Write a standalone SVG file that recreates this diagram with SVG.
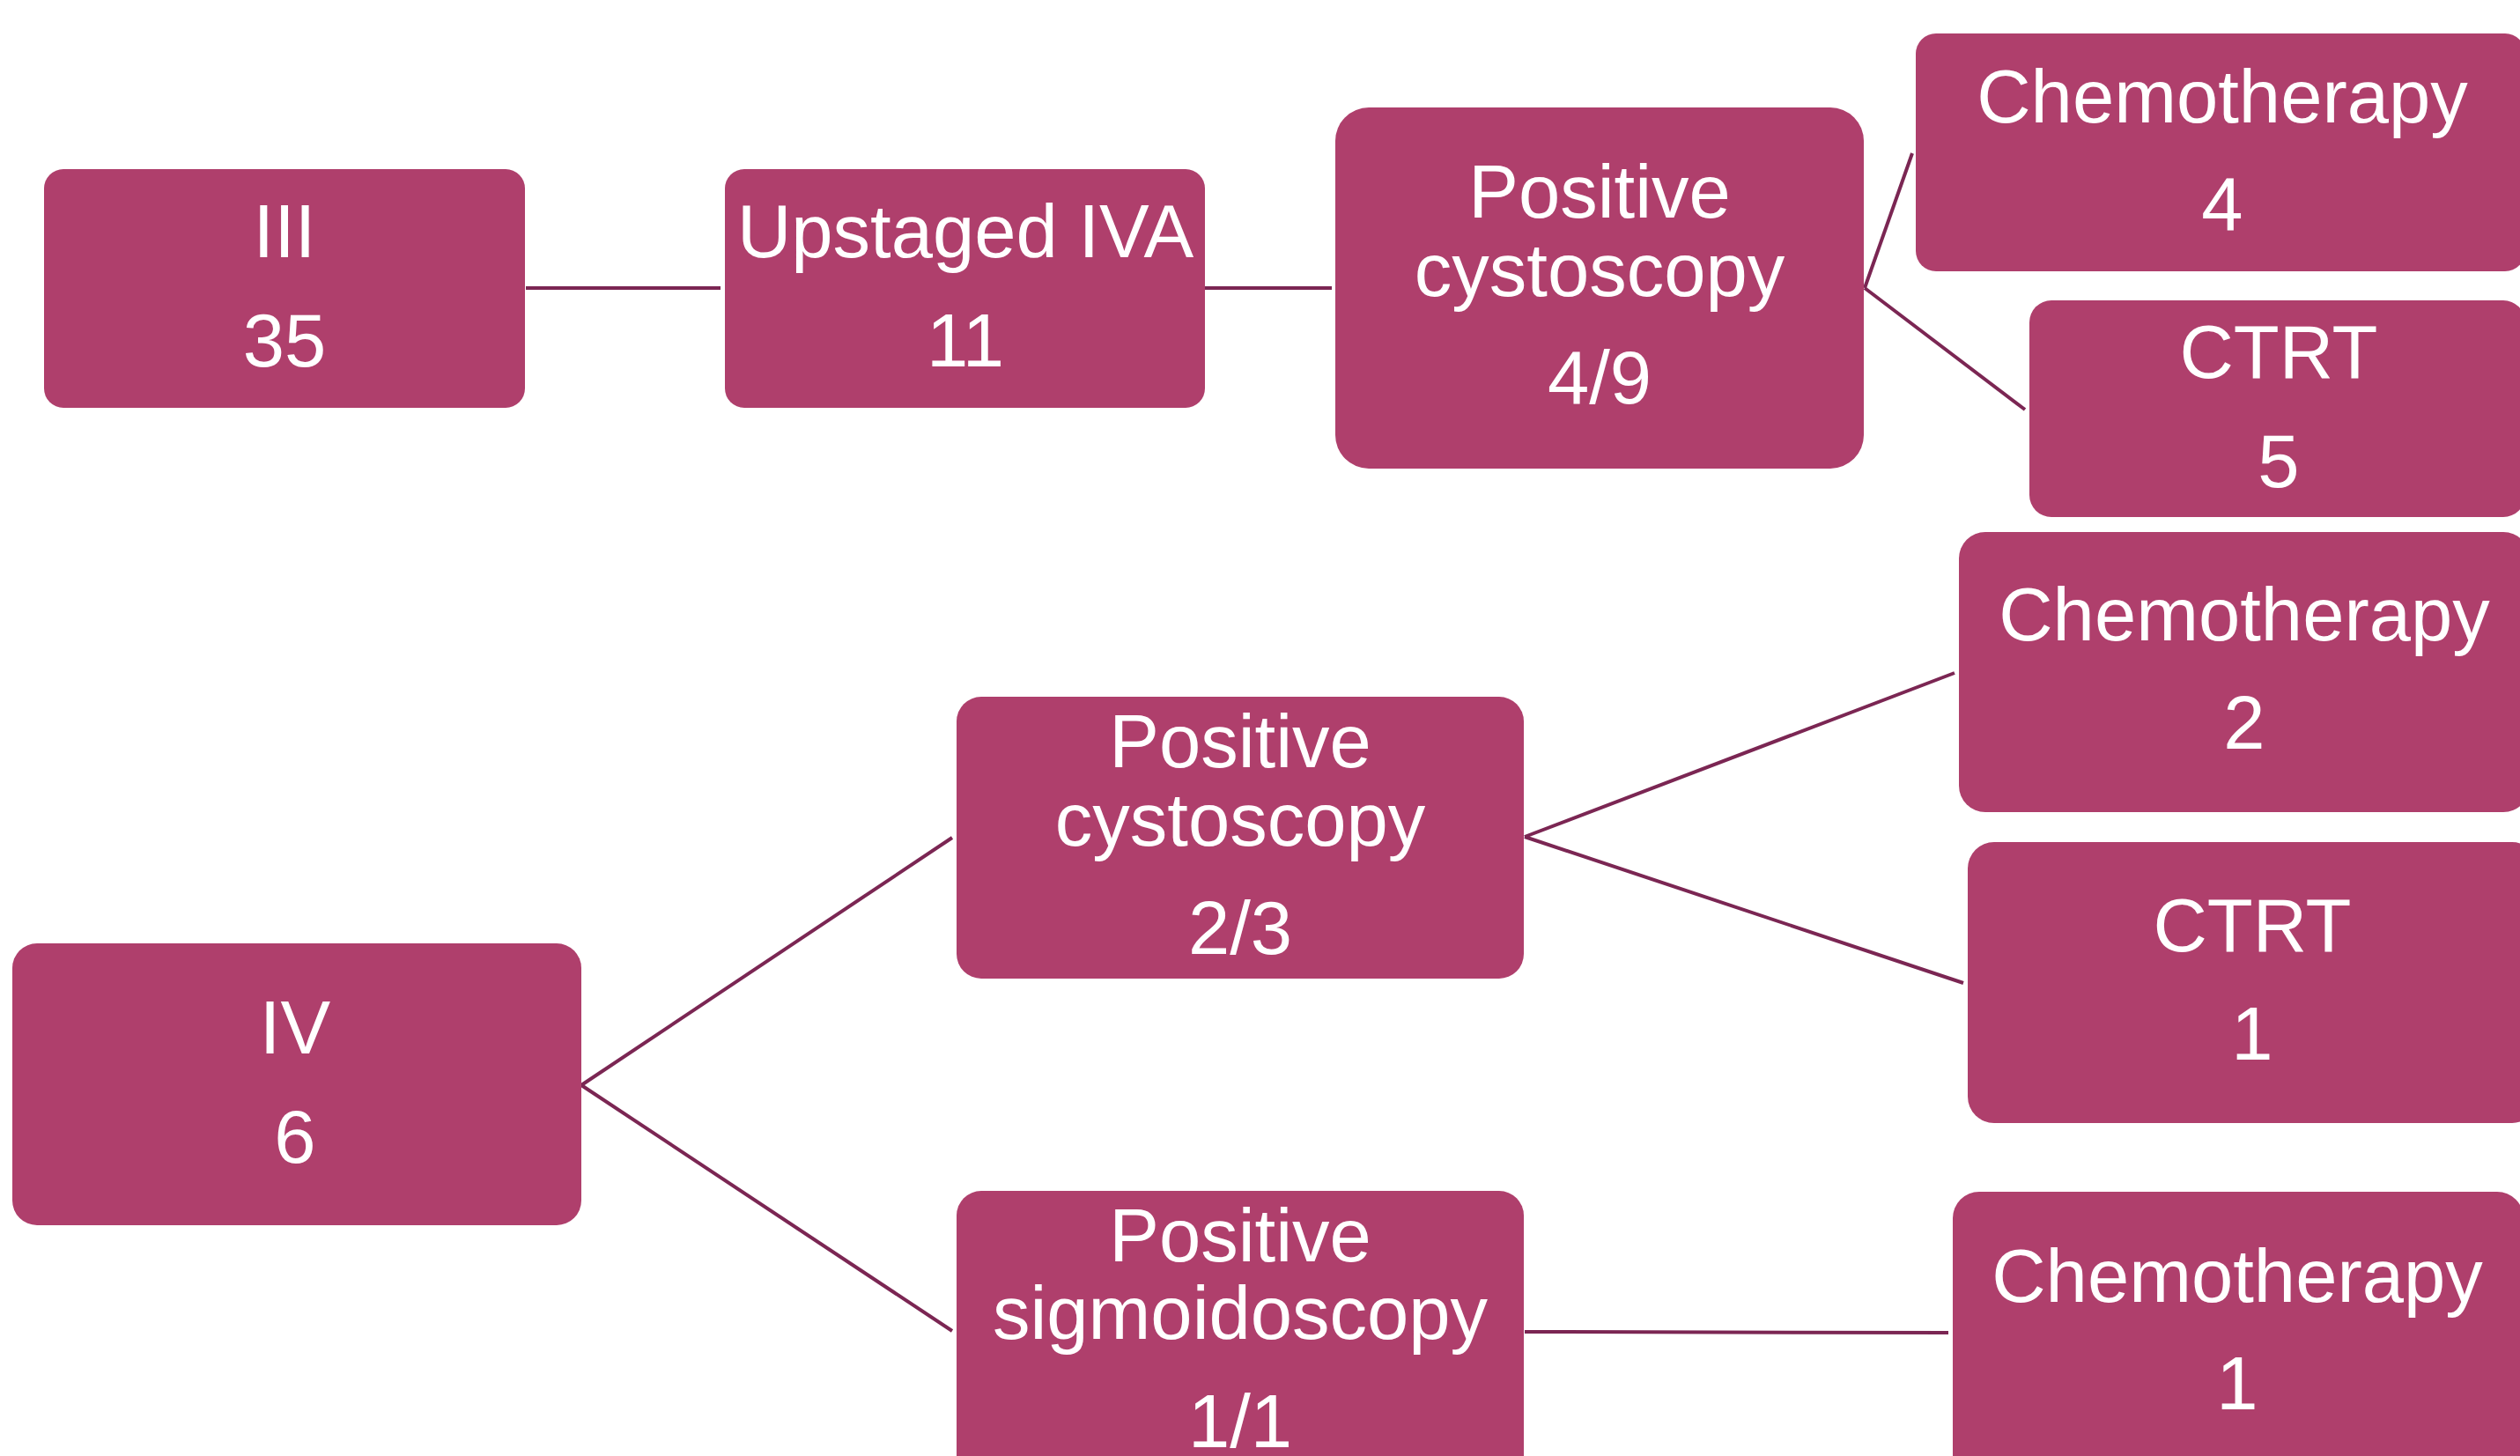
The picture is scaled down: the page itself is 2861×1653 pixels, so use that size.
<svg xmlns="http://www.w3.org/2000/svg" width="2861" height="1653" viewBox="0 0 2861 1653">
<style>
.box{fill:#AF3F6C;}
.t{fill:#FFFFFF;font-family:"Liberation Sans",Arial,sans-serif;font-size:85px;text-anchor:middle;}
.c{stroke:#7B2653;stroke-width:4;fill:none;}
</style>
<rect width="2861" height="1653" fill="#FFFFFF"/>
<g id="connectors">
<line class="c" x1="597" y1="327" x2="818" y2="327"/>
<line class="c" x1="1368" y1="327" x2="1512" y2="327"/>
<line class="c" x1="2117" y1="327" x2="2171" y2="174"/>
<line class="c" x1="2117" y1="327" x2="2299" y2="465"/>
<line class="c" x1="660" y1="1232" x2="1081" y2="951"/>
<line class="c" x1="660" y1="1232" x2="1081" y2="1511"/>
<line class="c" x1="1731" y1="950" x2="2219" y2="764"/>
<line class="c" x1="1731" y1="950" x2="2229" y2="1116"/>
<line class="c" x1="1731" y1="1512" x2="2212" y2="1513"/>
</g>
<g id="n_iii">
<rect class="box" x="50" y="192" width="546" height="271" rx="22"/>
<text class="t" x="323" y="292">III</text>
<text class="t" x="323" y="416">35</text>
</g>
<g id="n_upstaged">
<rect class="box" x="823" y="192" width="545" height="271" rx="22"/>
<text class="t" x="1096" y="292">Upstaged IVA</text>
<text class="t" x="1096" y="416">11</text>
</g>
<g id="n_cysto1">
<rect class="box" x="1516" y="122" width="600" height="410" rx="38"/>
<text class="t" x="1816" y="247">Positive</text>
<text class="t" x="1816" y="336">cystoscopy</text>
<text class="t" x="1816" y="458">4/9</text>
</g>
<g id="n_chemo4">
<rect class="box" x="2175" y="38" width="692" height="270" rx="23"/>
<text class="t" x="2523" y="139">Chemotherapy</text>
<text class="t" x="2523" y="261">4</text>
</g>
<g id="n_ctrt5">
<rect class="box" x="2304" y="341" width="563" height="246" rx="25"/>
<text class="t" x="2587" y="429">CTRT</text>
<text class="t" x="2587" y="553">5</text>
</g>
<g id="n_iv">
<rect class="box" x="14" y="1071" width="646" height="320" rx="28"/>
<text class="t" x="335" y="1196">IV</text>
<text class="t" x="335" y="1320">6</text>
</g>
<g id="n_cysto2">
<rect class="box" x="1086" y="791" width="644" height="320" rx="28"/>
<text class="t" x="1408" y="871">Positive</text>
<text class="t" x="1408" y="960">cystoscopy</text>
<text class="t" x="1408" y="1083">2/3</text>
</g>
<g id="n_sigmoid">
<rect class="box" x="1086" y="1352" width="644" height="330" rx="28"/>
<text class="t" x="1408" y="1432">Positive</text>
<text class="t" x="1408" y="1520">sigmoidoscopy</text>
<text class="t" x="1408" y="1643">1/1</text>
</g>
<g id="n_chemo2">
<rect class="box" x="2224" y="604" width="648" height="318" rx="30"/>
<text class="t" x="2548" y="727">Chemotherapy</text>
<text class="t" x="2548" y="850">2</text>
</g>
<g id="n_ctrt1">
<rect class="box" x="2234" y="956" width="648" height="319" rx="30"/>
<text class="t" x="2557" y="1080">CTRT</text>
<text class="t" x="2557" y="1203">1</text>
</g>
<g id="n_chemo1">
<rect class="box" x="2217" y="1353" width="648" height="330" rx="30"/>
<text class="t" x="2540" y="1478">Chemotherapy</text>
<text class="t" x="2540" y="1600">1</text>
</g>
</svg>
